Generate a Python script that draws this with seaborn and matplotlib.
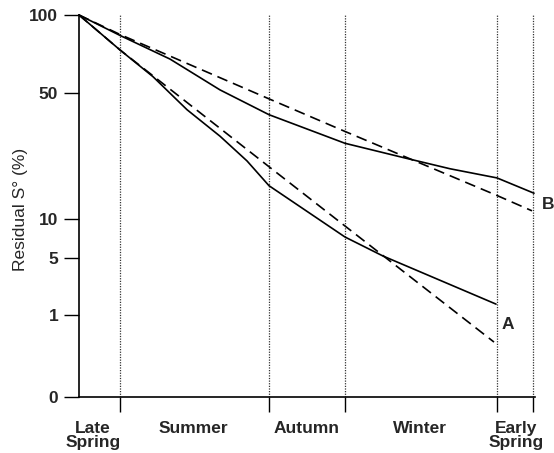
import numpy as np
import pandas as pd
import matplotlib
matplotlib.use("Agg")
import matplotlib.pyplot as plt
from matplotlib.ticker import FixedLocator, NullFormatter, NullLocator
import seaborn as sns

# ---------------- data ----------------
season_labels = ["Late\nSpring", "Summer", "Autumn", "Winter", "Early\nSpring"]
season_bounds = [41, 190, 266, 418, 454]          # season boundaries on the time axis
season_label_t = [14, 114, 228, 341, 437]          # where each season name sits
y_ticks = [0, 1, 5, 10, 50, 100]

a_solid_t = [0, 41, 74, 108, 141, 168, 190, 266, 304, 417]
a_solid_v = [100, 73.3, 57.8, 40.4, 28.8, 21.0, 15.3, 7.26, 5.18, 1.36]
a_dash_t = [0, 41, 190, 266, 415]
a_dash_v = [100, 73.3, 19.5, 8.83, 0.67]
b_solid_t = [0, 41, 91, 141, 190, 266, 326, 371, 418, 455]
b_solid_v = [100, 83.4, 67.6, 51.4, 37.9, 26.3, 21.8, 19.0, 16.9, 13.9]
b_dash_t = [0, 41, 190, 266, 418, 453]
b_dash_v = [100, 84.1, 46.4, 30.6, 13.5, 11.1]

curve_labels = ["A", "B"]
curve_label_t = [429, 469]
curve_label_v = [0.88, 12.1]

# ---------------- custom y scale (hand-drawn axis of the original) ----------------
_kg = np.array([-50, -1, 0, np.log10(5), 1, np.log10(50), 2, 50])
_kh = np.array([-49 * 82, 0, 82, 139, 178, 304, 382, 382 + 48 * 259.0])


def _g(v):
    v = np.asarray(v, dtype=float)
    return np.where(v >= 1, np.log10(np.maximum(v, 1)), v - 1)


def fwd(v):
    return np.interp(_g(v), _kg, _kh)


def inv(h):
    g = np.clip(np.interp(np.asarray(h, dtype=float), _kh, _kg), -50, 50)
    return np.where(g >= 0, 10 ** g, g + 1)


# ---------------- style ----------------
sns.set_style("ticks")
plt.rcParams["font.family"] = ["Liberation Sans", "DejaVu Sans"]

fig = plt.figure(figsize=(5.54, 4.53), dpi=100)
ax = fig.add_axes([79 / 554, 56 / 453, 456 / 554, 382 / 453])
ax.set_yscale("function", functions=(fwd, inv))

series = [
    (a_solid_t, a_solid_v, "-"),
    (a_dash_t, a_dash_v, (0, (6.5, 3.6))),
    (b_solid_t, b_solid_v, "-"),
    (b_dash_t, b_dash_v, (0, (6.5, 3.6))),
]
for t, v, ls in series:
    df = pd.DataFrame({"t": t, "v": v})
    sns.lineplot(data=df, x="t", y="v", ax=ax, color="black", linewidth=1.2,
                 linestyle=ls, estimator=None, sort=False, clip_on=False)

for b in season_bounds:
    ax.axvline(b, ymin=0, ymax=1, color="0.2", linewidth=0.9,
               linestyle=(0, (1, 1.1)), zorder=1)

for lab, t, v in zip(curve_labels, curve_label_t, curve_label_v):
    ax.text(t, v, lab, ha="center", va="center", fontsize=12.5, fontweight="bold")

ax.set_xlim(0, 456)
ax.set_ylim(0, 100)

ax.set_yticks(y_ticks)
ax.set_yticklabels([str(v) for v in y_ticks])
ax.yaxis.set_minor_locator(NullLocator())
ax.tick_params(axis="y", which="major", length=11, width=1.0, pad=4,
               labelsize=12.5, direction="out", color="black")
for lbl in ax.get_yticklabels():
    lbl.set_fontweight("bold")

ax.xaxis.set_major_locator(FixedLocator(season_bounds))
ax.xaxis.set_major_formatter(NullFormatter())
ax.set_xticks(season_label_t, minor=True)
ax.set_xticklabels(season_labels, minor=True, fontsize=12.5, fontweight="bold",
                   linespacing=0.95)
ax.tick_params(axis="x", which="major", length=11, width=1.0, direction="out",
               color="black")
ax.tick_params(axis="x", which="minor", length=0, pad=17)

ax.set_xlabel("")
ax.set_ylabel("Residual S\u00b0 (%)", fontsize=12.5)
ax.yaxis.set_label_coords(-0.112, 0.49)

for side in ["top", "right"]:
    ax.spines[side].set_visible(False)
for side in ["left", "bottom"]:
    ax.spines[side].set_linewidth(1.2)
    ax.spines[side].set_color("black")

fig.savefig("out.png", dpi=100)
